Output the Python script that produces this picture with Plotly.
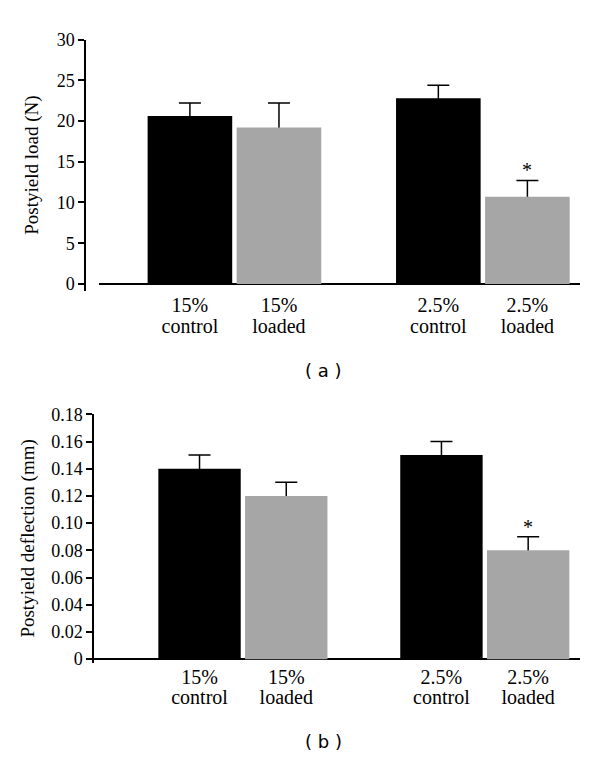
import plotly.graph_objects as go

groups = ["15%", "2.5%"]
series_names = ["control", "loaded"]

load_control = [20.6, 22.8]
load_loaded = [19.2, 10.7]
load_control_err = [1.6, 1.6]
load_loaded_err = [3.0, 2.0]

defl_control = [0.14, 0.15]
defl_loaded = [0.12, 0.08]
defl_control_err = [0.01, 0.01]
defl_loaded_err = [0.01, 0.01]

significant = [False, True]  # loaded vs control, per group

load_ticks = [0, 5, 10, 15, 20, 25, 30]
defl_ticks = [0, 0.02, 0.04, 0.06, 0.08, 0.10, 0.12, 0.14, 0.16, 0.18]
defl_ticktext = ["0", "0.02", "0.04", "0.06", "0.08", "0.10", "0.12", "0.14", "0.16", "0.18"]

BLACK = "#000000"
GRAY = "#a6a6a6"
SERIF = "Liberation Serif"
SANS = "DejaVu Sans"

W, H = 600, 765
OFF = 8  # page body margin compensation
BARGAP = 0.283
BARGROUPGAP = 0.05

xpos = list(range(len(groups)))
half = (1 - BARGAP) / 4
tickvals = []
top_text = []
bottom_text = []
for i, g in enumerate(groups):
    tickvals += [i - half, i + half]
    top_text += [g, g]
    bottom_text += [series_names[0], series_names[1]]

fig = go.Figure()


def err_trace(vals, errs, group, xa, ya):
    # transparent carrier bar for the upward error bar (drawn beneath the visible bar)
    return go.Bar(
        x=xpos, y=vals, marker=dict(color="rgba(0,0,0,0)", line=dict(width=0)),
        error_y=dict(type="data", array=errs, arrayminus=vals, symmetric=False,
                     color=BLACK, thickness=1.5, width=11),
        xaxis=xa, yaxis=ya, offsetgroup=group, showlegend=False, hoverinfo="skip")


def add_panel(ctrl, ctrl_err, ld, ld_err, xa, ya, xlab):
    fig.add_trace(err_trace(ctrl, ctrl_err, "c", xa, ya))
    fig.add_trace(err_trace(ld, ld_err, "l", xa, ya))
    fig.add_trace(go.Bar(x=xpos, y=ctrl, name="control",
                         marker=dict(color=BLACK, line=dict(width=0)),
                         xaxis=xa, yaxis=ya, offsetgroup="c", showlegend=False))
    fig.add_trace(go.Bar(x=xpos, y=ld, name="loaded",
                         marker=dict(color=GRAY, line=dict(width=0)),
                         xaxis=xa, yaxis=ya, offsetgroup="l", showlegend=False))
    # empty carrier so the second-line label axis gets drawn
    fig.add_trace(go.Scatter(x=[], y=[], xaxis=xlab, yaxis=ya, showlegend=False,
                             hoverinfo="skip"))
    for i, s in enumerate(significant):
        if s:
            fig.add_annotation(x=i + half, y=ld[i] + ld_err[i], xref=xa, yref=ya,
                               text="*", showarrow=False, yanchor="bottom", yshift=-3,
                               font=dict(family=SERIF, size=20, color="black"))


add_panel(load_control, load_control_err, load_loaded, load_loaded_err, "x", "y", "x3")
add_panel(defl_control, defl_control_err, defl_loaded, defl_loaded_err, "x2", "y2", "x4")

xcommon = dict(tickmode="array", tickvals=tickvals, showline=False,
               showgrid=False, zeroline=False, ticks="", ticklen=0,
               tickfont=dict(family=SERIF, size=20, color="black"), fixedrange=True)
ycommon = dict(showline=True, linecolor="black", linewidth=1.5, ticks="outside", ticklen=6,
               tickwidth=1.5, tickcolor="black", showgrid=False, zeroline=True,
               zerolinecolor="black", zerolinewidth=1.5,
               tickfont=dict(family=SERIF, size=18, color="black"))


def px_x(v):
    return (v - OFF) / W


def px_y(v):
    return 1 - (v - OFF) / H


xa_dom = [px_x(98.8), px_x(580)]
xa_rng = [-0.546, 1.391]
xb_dom = [px_x(94), px_x(580)]
xb_rng = [-0.6155, 1.3935]

fig.update_layout(
    width=W, height=H, margin=dict(l=0, r=0, t=0, b=0),
    font=dict(family=SERIF, color="black"),
    paper_bgcolor="white", plot_bgcolor="white",
    barmode="group", bargap=BARGAP, bargroupgap=BARGROUPGAP,
    xaxis=dict(domain=xa_dom, range=xa_rng, anchor="y", ticktext=top_text,
               ticklabelstandoff=0, **xcommon),
    xaxis3=dict(domain=xa_dom, range=xa_rng, anchor="y", overlaying="x", side="bottom",
                ticktext=bottom_text, ticklabelstandoff=21, **xcommon),
    yaxis=dict(domain=[px_y(287), px_y(30)], range=[-0.84, 30], anchor="free",
               position=px_x(85), tickvals=load_ticks,
               title=dict(text="Postyield load (N)", font=dict(family=SERIF, size=19, color="black"),
                          standoff=12),
               **ycommon),
    xaxis2=dict(domain=xb_dom, range=xb_rng, anchor="y2", ticktext=top_text,
                ticklabelstandoff=0, **xcommon),
    xaxis4=dict(domain=xb_dom, range=xb_rng, anchor="y2", overlaying="x2", side="bottom",
                ticktext=bottom_text, ticklabelstandoff=20, **xcommon),
    yaxis2=dict(domain=[px_y(667.2), px_y(413.3)], range=[-0.0025, 0.18], anchor="x2",
                tickvals=defl_ticks, ticktext=defl_ticktext,
                title=dict(text="Postyield deflection (mm)", font=dict(family=SERIF, size=19, color="black"),
                           standoff=12),
                **ycommon),
)

fig.add_annotation(x=px_x(324), y=px_y(368), xref="paper", yref="paper", text="( a )",
                   xanchor="center", yanchor="middle",
                   showarrow=False, font=dict(family=SANS, size=18, color="black"))
fig.add_annotation(x=px_x(324), y=px_y(748), xref="paper", yref="paper", text="( b )",
                   xanchor="center", yanchor="middle",
                   showarrow=False, font=dict(family=SANS, size=18, color="black"))

fig.write_html("out.html")
